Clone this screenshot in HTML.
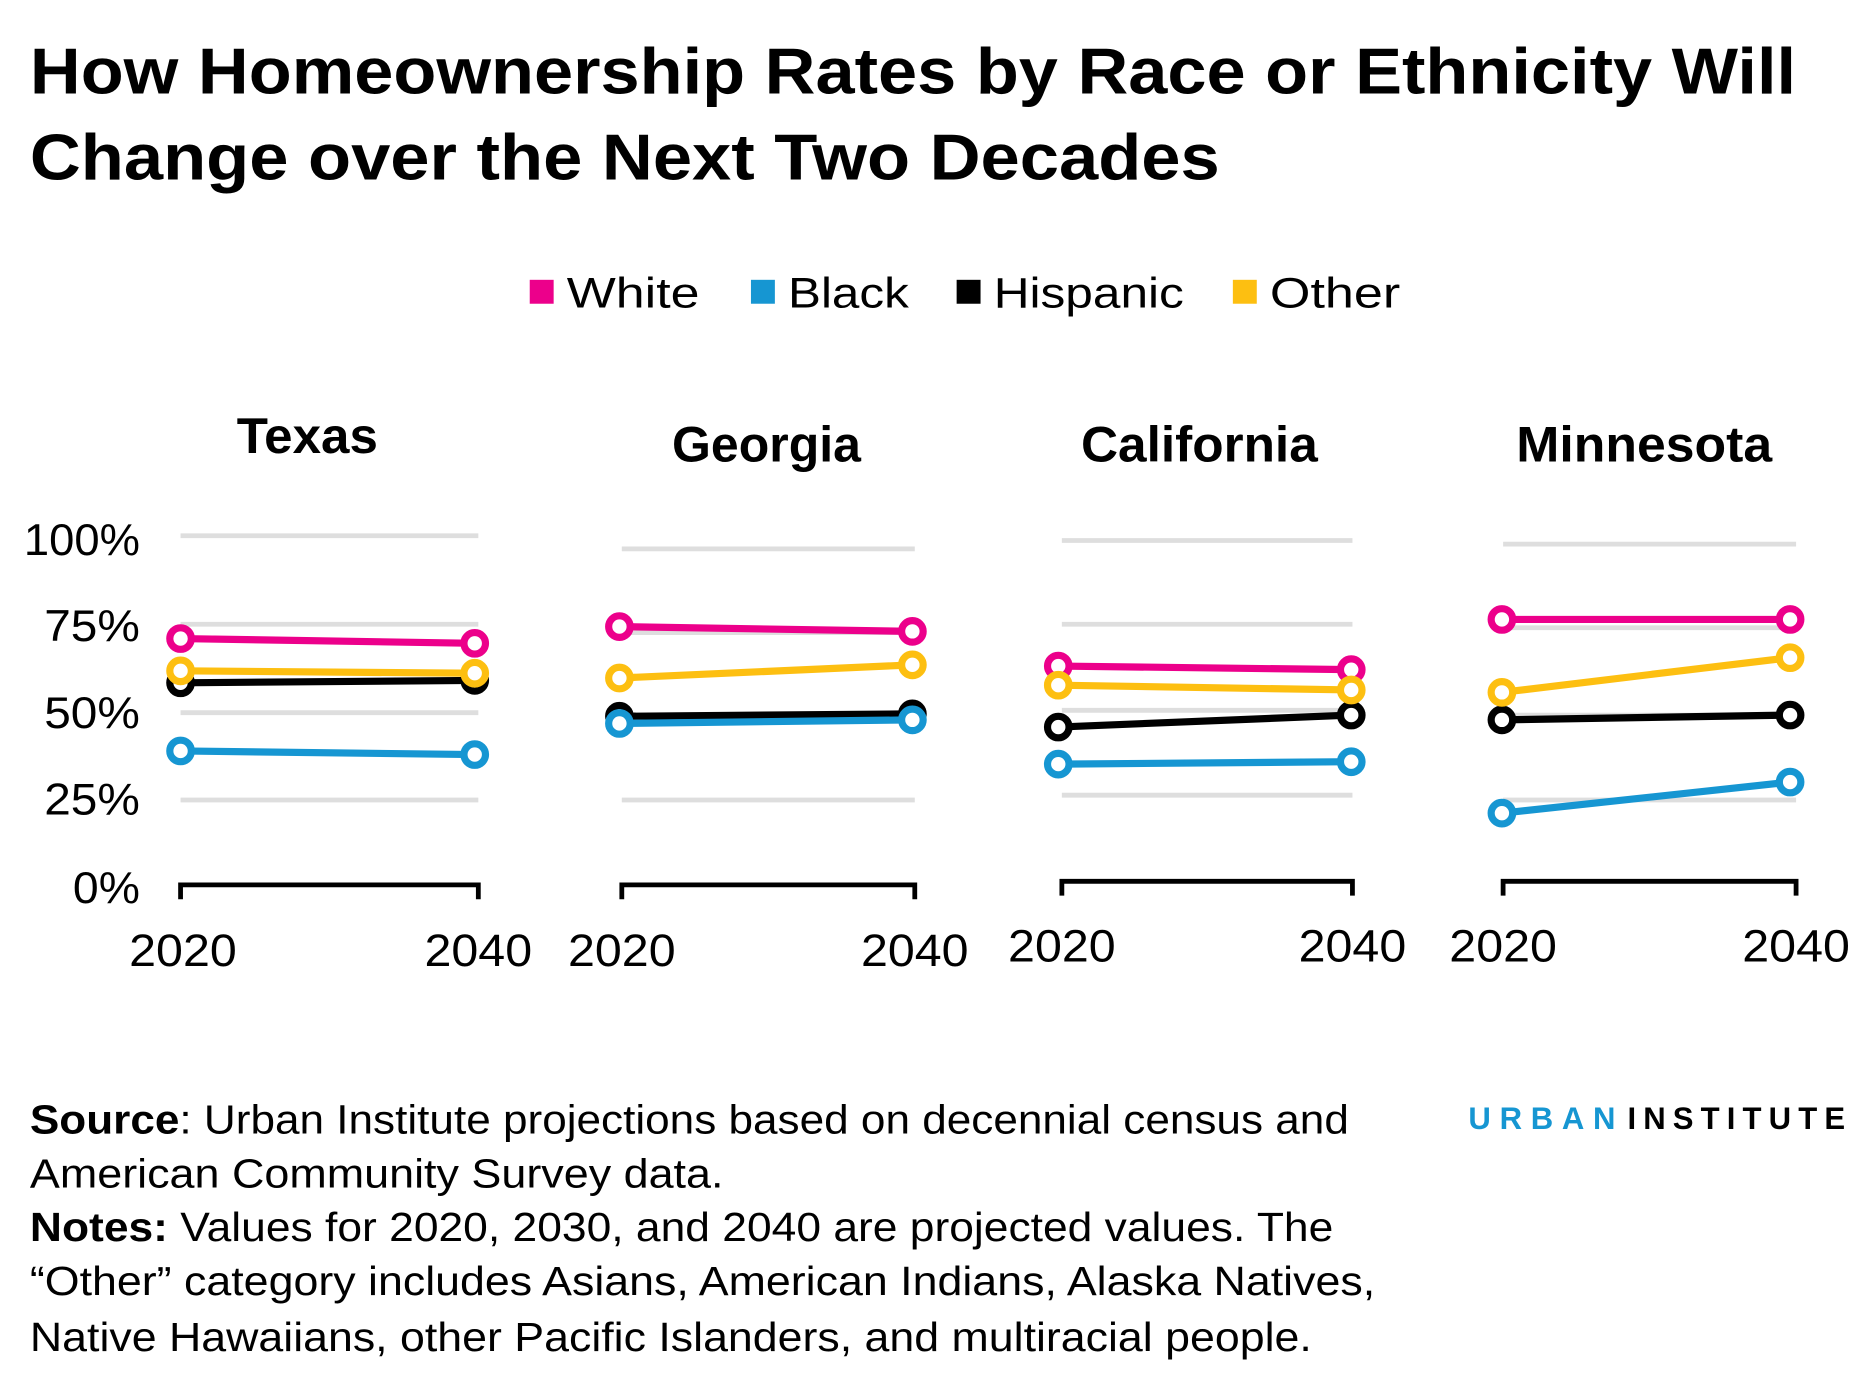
<!DOCTYPE html>
<html><head><meta charset="utf-8"><style>
html,body{margin:0;padding:0;background:#fff;}
svg{display:block;}
text{font-family:"Liberation Sans",sans-serif;}
</style></head><body>
<svg width="1875" height="1376" viewBox="0 0 1568 1150.7" preserveAspectRatio="none" xmlns="http://www.w3.org/2000/svg">
<g font-weight="bold" font-size="54" fill="#000">
<text x="25" y="78" textLength="1477" lengthAdjust="spacingAndGlyphs">How Homeownership Rates by Race or Ethnicity Will</text>
<text x="25" y="150" textLength="995" lengthAdjust="spacingAndGlyphs">Change over the Next Two Decades</text>
</g>
<g font-size="36">
<rect x="443" y="234" width="20" height="20" fill="#ec008b"/><text x="474" y="257" textLength="111" lengthAdjust="spacingAndGlyphs">White</text>
<rect x="628" y="234" width="20" height="20" fill="#1696d2"/><text x="659" y="257" textLength="101" lengthAdjust="spacingAndGlyphs">Black</text>
<rect x="800" y="234" width="20" height="20" fill="#000"/><text x="831" y="257" textLength="159" lengthAdjust="spacingAndGlyphs">Hispanic</text>
<rect x="1031" y="234" width="20" height="20" fill="#fdbf11"/><text x="1062" y="257" textLength="109" lengthAdjust="spacingAndGlyphs">Other</text>
</g>
<g font-weight="bold" font-size="42" text-anchor="middle">
<text x="257" y="379" textLength="118" lengthAdjust="spacingAndGlyphs">Texas</text>
<text x="641" y="386" textLength="158" lengthAdjust="spacingAndGlyphs">Georgia</text>
<text x="1003" y="386" textLength="198" lengthAdjust="spacingAndGlyphs">California</text>
<text x="1375" y="386" textLength="214" lengthAdjust="spacingAndGlyphs">Minnesota</text>
</g>
<g font-size="37" text-anchor="end">
<text x="117" y="464" textLength="97" lengthAdjust="spacingAndGlyphs">100%</text>
<text x="117" y="536" textLength="80" lengthAdjust="spacingAndGlyphs">75%</text>
<text x="117" y="609" textLength="80" lengthAdjust="spacingAndGlyphs">50%</text>
<text x="117" y="681" textLength="80" lengthAdjust="spacingAndGlyphs">25%</text>
<text x="117" y="755" textLength="56" lengthAdjust="spacingAndGlyphs">0%</text>
</g>
<g stroke="#dedede" stroke-width="4">
<path d="M151 448H400M151 522H400M151 596H400M151 669H400"/>
<path d="M520 459H765M520 529H765M520 599H765M520 669H765"/>
<path d="M888 452H1131M888 522H1131M888 594H1131M888 665H1131"/>
<path d="M1257 455H1502M1257 525H1502M1257 598H1502M1257 669H1502"/>
</g>
<g stroke="#000" stroke-width="4" fill="none">
<path d="M151 752V740H400V752"/>
<path d="M520 752V740H765V752"/>
<path d="M888 749V737H1131V749"/>
<path d="M1257 749V737H1502V749"/>
</g>
<g font-size="38" text-anchor="middle">
<text x="153" y="808" textLength="90" lengthAdjust="spacingAndGlyphs">2020</text><text x="400" y="808" textLength="90" lengthAdjust="spacingAndGlyphs">2040</text>
<text x="520" y="808" textLength="90" lengthAdjust="spacingAndGlyphs">2020</text><text x="765" y="808" textLength="90" lengthAdjust="spacingAndGlyphs">2040</text>
<text x="888" y="804" textLength="90" lengthAdjust="spacingAndGlyphs">2020</text><text x="1131" y="804" textLength="90" lengthAdjust="spacingAndGlyphs">2040</text>
<text x="1257" y="804" textLength="90" lengthAdjust="spacingAndGlyphs">2020</text><text x="1502" y="804" textLength="90" lengthAdjust="spacingAndGlyphs">2040</text>
</g>
<g stroke-width="6" fill="#fff">
<g stroke="#000"><line x1="151" y1="571" x2="397" y2="569"/><circle cx="151" cy="571" r="9"/><circle cx="397" cy="569" r="9"/></g>
<g stroke="#fdbf11"><line x1="151" y1="561" x2="397" y2="563"/><circle cx="151" cy="561" r="9"/><circle cx="397" cy="563" r="9"/></g>
<g stroke="#1696d2"><line x1="151" y1="628" x2="397" y2="631"/><circle cx="151" cy="628" r="9"/><circle cx="397" cy="631" r="9"/></g>
<g stroke="#ec008b"><line x1="151" y1="534" x2="397" y2="538"/><circle cx="151" cy="534" r="9"/><circle cx="397" cy="538" r="9"/></g>
<g stroke="#000"><line x1="518" y1="599" x2="763" y2="597"/><circle cx="518" cy="599" r="9"/><circle cx="763" cy="597" r="9"/></g>
<g stroke="#1696d2"><line x1="518" y1="605" x2="763" y2="602"/><circle cx="518" cy="605" r="9"/><circle cx="763" cy="602" r="9"/></g>
<g stroke="#fdbf11"><line x1="518" y1="567" x2="763" y2="556"/><circle cx="518" cy="567" r="9"/><circle cx="763" cy="556" r="9"/></g>
<g stroke="#ec008b"><line x1="518" y1="524" x2="763" y2="528"/><circle cx="518" cy="524" r="9"/><circle cx="763" cy="528" r="9"/></g>
<g stroke="#000"><line x1="885" y1="608" x2="1130" y2="598"/><circle cx="885" cy="608" r="9"/><circle cx="1130" cy="598" r="9"/></g>
<g stroke="#1696d2"><line x1="885" y1="639" x2="1130" y2="637"/><circle cx="885" cy="639" r="9"/><circle cx="1130" cy="637" r="9"/></g>
<g stroke="#ec008b"><line x1="885" y1="557" x2="1130" y2="560"/><circle cx="885" cy="557" r="9"/><circle cx="1130" cy="560" r="9"/></g>
<g stroke="#fdbf11"><line x1="885" y1="573" x2="1130" y2="577"/><circle cx="885" cy="573" r="9"/><circle cx="1130" cy="577" r="9"/></g>
<g stroke="#000"><line x1="1256" y1="602" x2="1497" y2="598"/><circle cx="1256" cy="602" r="9"/><circle cx="1497" cy="598" r="9"/></g>
<g stroke="#1696d2"><line x1="1256" y1="680" x2="1497" y2="654"/><circle cx="1256" cy="680" r="9"/><circle cx="1497" cy="654" r="9"/></g>
<g stroke="#fdbf11"><line x1="1256" y1="579" x2="1497" y2="550"/><circle cx="1256" cy="579" r="9"/><circle cx="1497" cy="550" r="9"/></g>
<g stroke="#ec008b"><line x1="1256" y1="518" x2="1497" y2="518"/><circle cx="1256" cy="518" r="9"/><circle cx="1497" cy="518" r="9"/></g>
</g>
<g font-size="34">
<text x="25" y="948" textLength="1103" lengthAdjust="spacingAndGlyphs"><tspan font-weight="bold">Source</tspan>: Urban Institute projections based on decennial census and</text>
<text x="25" y="993" textLength="580" lengthAdjust="spacingAndGlyphs">American Community Survey data.</text>
<text x="25" y="1038" textLength="1090" lengthAdjust="spacingAndGlyphs"><tspan font-weight="bold">Notes:</tspan> Values for 2020, 2030, and 2040 are projected values. The</text>
<text x="25" y="1083" textLength="1125" lengthAdjust="spacingAndGlyphs">“Other” category includes Asians, American Indians, Alaska Natives,</text>
<text x="25" y="1130" textLength="1072" lengthAdjust="spacingAndGlyphs">Native Hawaiians, other Pacific Islanders, and multiracial people.</text>
</g>
<g font-size="26" font-weight="bold">
<text x="1228" y="944" fill="#1696d2" textLength="123" lengthAdjust="spacing">URBAN</text>
<text x="1361" y="944" fill="#000" textLength="182" lengthAdjust="spacing">INSTITUTE</text>
</g>
</svg>
</body></html>
